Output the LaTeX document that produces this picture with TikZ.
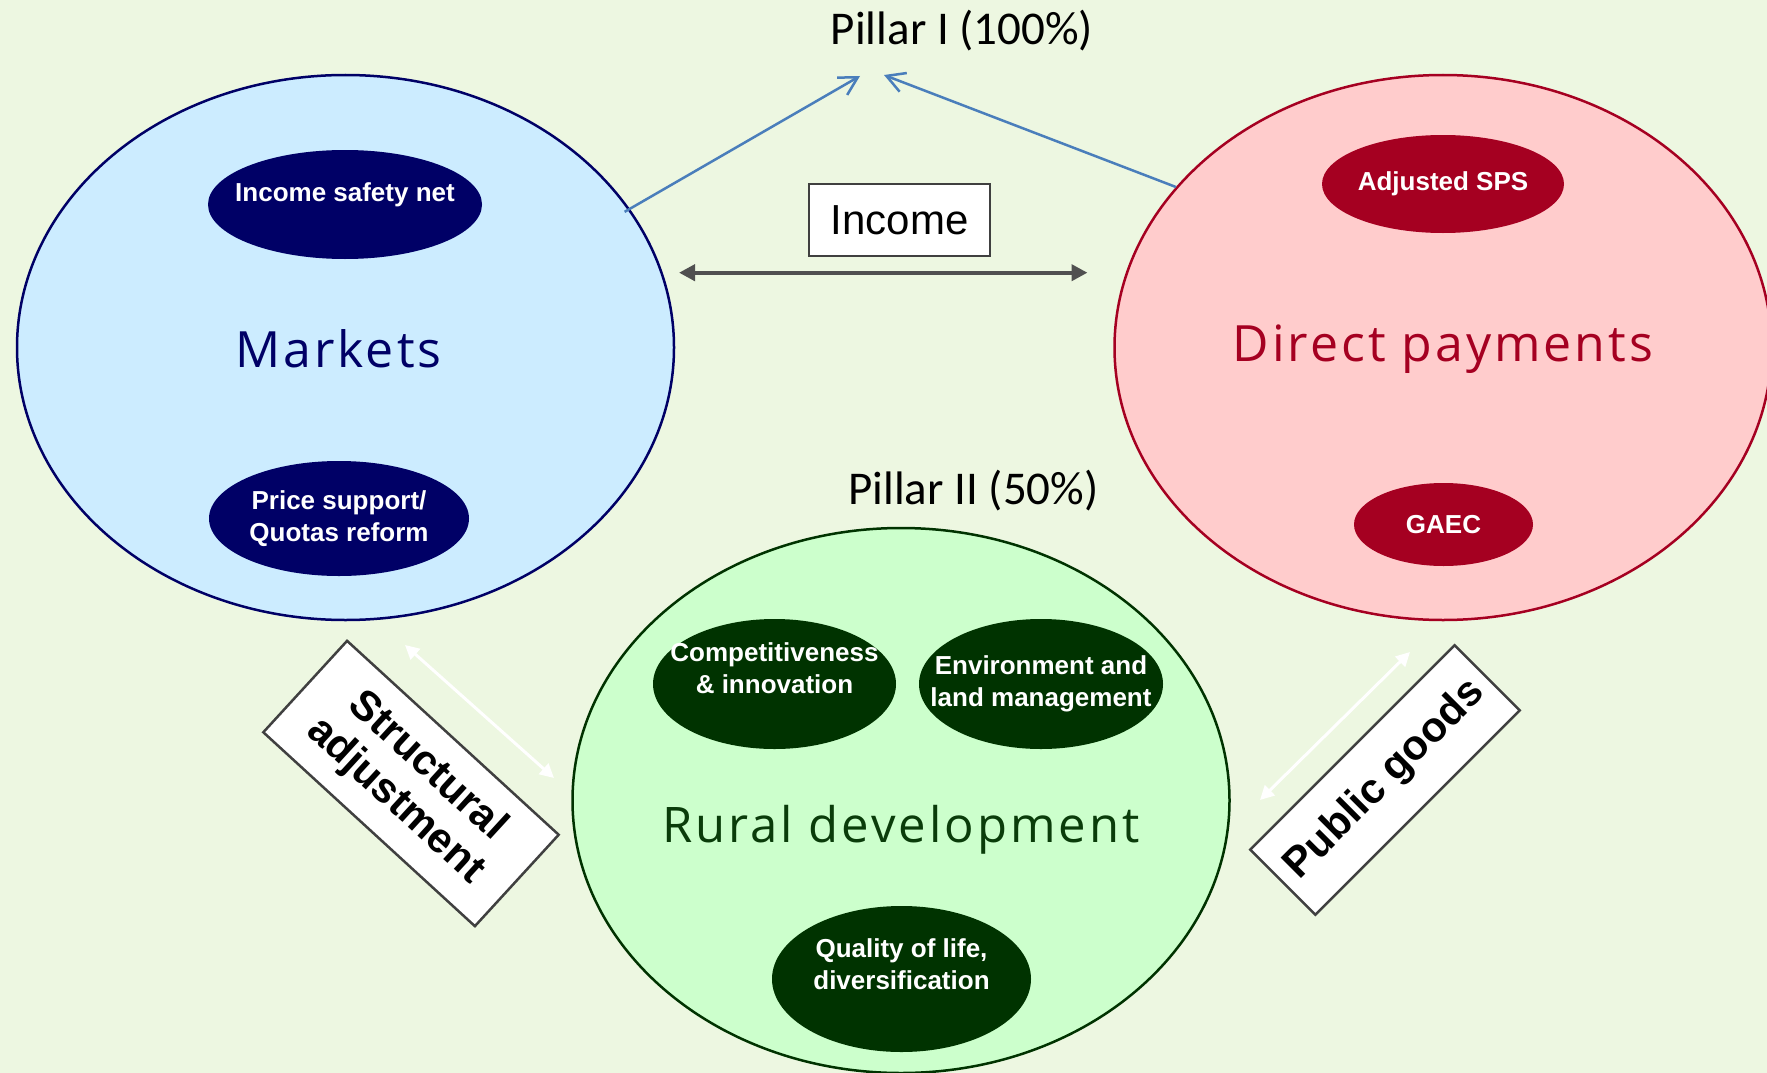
\documentclass[tikz,border=0pt]{standalone}
\usepackage{fontspec}
\setmainfont{Liberation Sans}
\newfontfamily\pillarfont{Carlito}
\newfontfamily\titlefont[LetterSpace=6]{Open Sans}
\usetikzlibrary{shapes.geometric,arrows.meta}
\definecolor{bgreen}{RGB}{237,247,225}
\definecolor{mktblue}{RGB}{204,236,255}
\definecolor{navy}{RGB}{0,0,102}
\definecolor{dppink}{RGB}{255,204,204}
\definecolor{dpred}{RGB}{165,0,33}
\definecolor{rdgreen}{RGB}{204,255,204}
\definecolor{dkgreen}{RGB}{0,51,0}
\definecolor{rdtext}{RGB}{10,60,10}
\definecolor{arrowblue}{RGB}{74,126,187}
\definecolor{boxgray}{RGB}{64,64,64}
\definecolor{incgray}{RGB}{80,80,80}

\begin{document}
\begin{tikzpicture}[x=1pt,y=-1pt,
	pillar/.style={font=\pillarfont\fontsize{47}{56}\selectfont,anchor=base},
	title/.style={font=\titlefont\fontsize{50}{60}\selectfont},
	bigell/.style={ellipse,line width=2.5pt,minimum width=657pt,minimum height=545pt,inner sep=0pt},
	subell/.style={ellipse,inner sep=0pt},
	subtxt/.style={text=white,align=center,font=\bfseries\fontsize{26}{31.5}\selectfont},
	tagbox/.style={draw=boxgray,line width=2.5pt,fill=white,inner sep=0pt,align=center,font=\bfseries\fontsize{42}{47}\selectfont},
	bluearr/.style={arrowblue,line width=2.5pt,-{Straight Barb[length=18pt,width=20pt]}},
	whitearr/.style={white,line width=3pt,{Triangle[length=14pt,width=14pt]}-{Triangle[length=14pt,width=14pt]}}]
	\clip (0,0) rectangle (1767,1073);
	\fill[bgreen] (0,0) rectangle (1767,1073);
	% the three policy areas
	\node[bigell,draw=navy,fill=mktblue,label={[title,text=navy,xshift=-7pt,yshift=-1pt]center:Markets}] (mkt) at (345.5,347.5) {};
	\node[bigell,draw=dpred,fill=dppink,label={[title,text=dpred,yshift=-2pt]center:Direct payments}] (dp) at (1443,347.5) {};
	\node[bigell,draw=dkgreen,fill=rdgreen,label={[title,text=rdtext,font=\titlefont\fontsize{49}{58}\selectfont,yshift=-29pt]center:Rural development}] (rd) at (901,800.5) {};
	% measures
	\node[subell,fill=navy,minimum width=274pt,minimum height=109pt,label={[subtxt,yshift=10pt]center:Income safety net}] (isn) at (345,204.5) {};
	\node[subell,fill=navy,minimum width=260pt,minimum height=115pt,label={[subtxt]center:Price support/\\Quotas reform}] (psq) at (339,518.5) {};
	\node[subell,fill=dpred,minimum width=242pt,minimum height=98pt,label={[subtxt]center:Adjusted SPS}] (sps) at (1443,184) {};
	\node[subell,fill=dpred,minimum width=179pt,minimum height=83pt,label={[subtxt]center:GAEC}] (gaec) at (1443.5,524.5) {};
	\node[subell,fill=dkgreen,minimum width=243pt,minimum height=130pt,label={[subtxt,yshift=16pt]center:Competitiveness\\\& innovation}] (comp) at (774.5,684) {};
	\node[subell,fill=dkgreen,minimum width=244pt,minimum height=130pt,label={[subtxt]center:Environment and\\land management}] (env) at (1041,684) {};
	\node[subell,fill=dkgreen,minimum width=259pt,minimum height=146pt,label={[subtxt,yshift=15pt]center:Quality of life,\\diversification}] (qol) at (901.5,979) {};
	% pillars
	\node[pillar] (p1txt) at (962,45) {Pillar I (100\%)};
	\node[pillar] (p2txt) at (973.5,504) {Pillar II (50\%)};
	\coordinate (p1l) at (860,76);
	\coordinate (p1r) at (884,75);
	\draw[bluearr,shorten <=-6pt] (mkt.26.6) -- (p1l);
	\draw[bluearr] (dp.149.8) -- (p1r);
	% income link
	\node[draw=boxgray,line width=2.5pt,fill=white,inner sep=0pt,minimum width=181pt,minimum height=72pt,font=\fontsize{42}{50}\selectfont] (inc) at (899.5,220) {Income};
	\coordinate (incl) at (679,272.7);
	\coordinate (incr) at (1087.5,272.7);
	\draw[incgray,line width=4pt,{Triangle[length=16pt,width=16pt]}-{Triangle[length=16pt,width=16pt]}] (incl) -- (incr);
	% side links
	\node[tagbox,rotate=-42.5,minimum width=287pt,minimum height=124pt] (sadj) at (411,783.5) {Structural\\adjustment};
	\node[tagbox,rotate=45,minimum width=289pt,minimum height=92pt] (pgood) at (1385,780) {Public goods};
	\coordinate (sa1) at (405,645);
	\coordinate (sa2) at (554,778);
	\coordinate (pg1) at (1260,800);
	\coordinate (pg2) at (1410,652);
	\draw[whitearr] (sa1) -- (sa2);
	\draw[whitearr] (pg1) -- (pg2);
\end{tikzpicture}
\end{document}
